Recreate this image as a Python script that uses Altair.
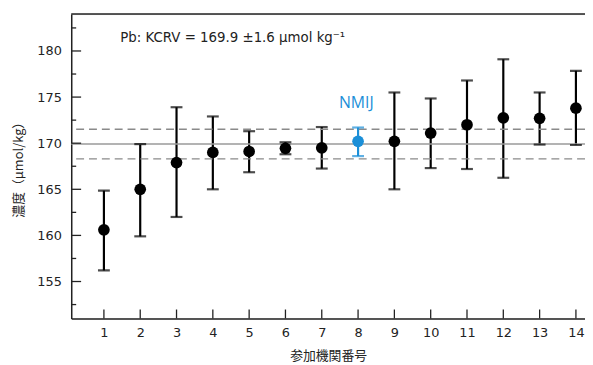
import altair as alt
import pandas as pd

# ---- data ----
labs = list(range(1, 15))
values = [160.6, 165.0, 167.9, 169.0, 169.1, 169.45, 169.5, 170.2, 170.2, 171.1, 172.0, 172.75, 172.7, 173.8]
upper = [164.85, 169.9, 173.9, 172.9, 171.3, 170.1, 171.75, 171.7, 175.5, 174.85, 176.8, 179.1, 175.5, 177.85]
lower = [156.2, 159.9, 162.0, 165.0, 166.85, 168.8, 167.25, 168.6, 165.0, 167.3, 167.2, 166.25, 169.85, 169.8]
groups = ["other"] * 7 + ["NMIJ"] + ["other"] * 6

kcrv = 169.9
kcrv_u = 1.6

y_major = [155, 160, 165, 170, 175, 180]
y_minor = [152.5, 157.5, 162.5, 167.5, 172.5, 177.5, 182.5]
x_ticks = labs

X_DOM = [0.1, 14.25]
Y_DOM = [151, 184]

FONT = "Noto Sans CJK JP"
NUMFONT = "DejaVu Sans"
BLUE = "#1b8fd8"

df = pd.DataFrame({"lab": labs, "value": values, "upper": upper, "lower": lower, "group": groups})

xs = alt.Scale(domain=X_DOM, nice=False, zero=False)
ys = alt.Scale(domain=Y_DOM, nice=False, zero=False)
color = alt.Color("group:N", scale=alt.Scale(domain=["other", "NMIJ"], range=["#000000", BLUE]), legend=None)

X_AX = alt.Axis(values=x_ticks, grid=False, ticks=False, tickSize=0,
                labelOverlap=False, labelFlush=False, labelBound=False,
                labelPadding=8, labelFontSize=13, labelColor="#222", titleFontSize=13,
                titleFontWeight="normal", titlePadding=11, titleColor="#222",
                domainColor="#222", domainWidth=1.5, labelFont=NUMFONT, titleFont=FONT)
Y_AX = alt.Axis(values=y_major, grid=False, ticks=False, tickSize=0,
                labelOverlap=False, labelFlush=False, labelBound=False,
                labelPadding=10, labelFontSize=13, labelColor="#222", titleFontSize=13,
                titleFontWeight="normal", titlePadding=12, titleColor="#222",
                domainColor="#222", domainWidth=1.5, labelFont=NUMFONT, titleFont=FONT)
XT = "参加機関番号"
YT = "濃度（μmol/kg）"


def X(field):
    return alt.X(field, type="quantitative", scale=xs, axis=X_AX, title=XT)


def Y(field):
    return alt.Y(field, type="quantitative", scale=ys, axis=Y_AX, title=YT)


base = alt.Chart(df)

rules = base.mark_rule(strokeWidth=2.2).encode(
    x=X("lab"), y=Y("lower"), y2="upper:Q", color=color)
cap_top = base.mark_tick(orient="horizontal", size=12, thickness=2.2).encode(
    x=X("lab"), y=Y("upper"), color=color)
cap_bot = base.mark_tick(orient="horizontal", size=12, thickness=2.2).encode(
    x=X("lab"), y=Y("lower"), color=color)
points = base.mark_circle(size=140, opacity=1).encode(
    x=X("lab"), y=Y("value"), color=color)

hdf = pd.DataFrame({"value": [kcrv]})
hline = alt.Chart(hdf).mark_rule(color="#9a9a9a", strokeWidth=1.5).encode(y=Y("value"))
ddf = pd.DataFrame({"value": [kcrv - kcrv_u, kcrv + kcrv_u]})
dlines = alt.Chart(ddf).mark_rule(color="#8a8a8a", strokeWidth=1.5, strokeDash=[8, 5]).encode(y=Y("value"))

top_df = pd.DataFrame({"value": [Y_DOM[1]]})
top_line = alt.Chart(top_df).mark_rule(color="#222", strokeWidth=1.5).encode(y=Y("value"))

ymaj_df = pd.DataFrame({"value": y_major})
ymaj = alt.Chart(ymaj_df).mark_rule(color="#222", strokeWidth=1.3).encode(
    y=Y("value"), x=alt.value(0), x2=alt.value(10))
ymin_df = pd.DataFrame({"value": y_minor})
ymin = alt.Chart(ymin_df).mark_rule(color="#222", strokeWidth=1.3).encode(
    y=Y("value"), x=alt.value(0), x2=alt.value(5))
xt_df = pd.DataFrame({"lab": x_ticks})
xt = alt.Chart(xt_df).mark_rule(color="#222", strokeWidth=1.3).encode(
    x=X("lab"), y=alt.value(308), y2=alt.value(299))

ann_df = pd.DataFrame({"lab": [1.45], "value": [181.4], "t": ["Pb: KCRV = 169.9 ±1.6 μmol kg⁻¹"]})
ann = alt.Chart(ann_df).mark_text(align="left", baseline="middle", fontSize=13.5, font=NUMFONT, color="#222").encode(
    x=X("lab"), y=Y("value"), text="t:N")
nm_df = pd.DataFrame({"lab": [7.95], "value": [174.3], "t": ["NMIJ"]})
nm = alt.Chart(nm_df).mark_text(align="center", baseline="middle", fontSize=16, font="Open Sans", color=BLUE).encode(
    x=X("lab"), y=Y("value"), text="t:N")

chart = alt.layer(
    rules, dlines, hline, cap_top, cap_bot, points, top_line, ymaj, ymin, xt, ann, nm
).properties(
    width=520, height=308,
    autosize=alt.AutoSizeParams(type="none"),
    padding={"left": 64, "top": 4, "right": 0, "bottom": 45},
).configure_view(stroke=None).configure_axis(labelOverlap=False).configure(font=FONT)

chart.save("out.html", embed_options={"renderer": "svg", "actions": False})
